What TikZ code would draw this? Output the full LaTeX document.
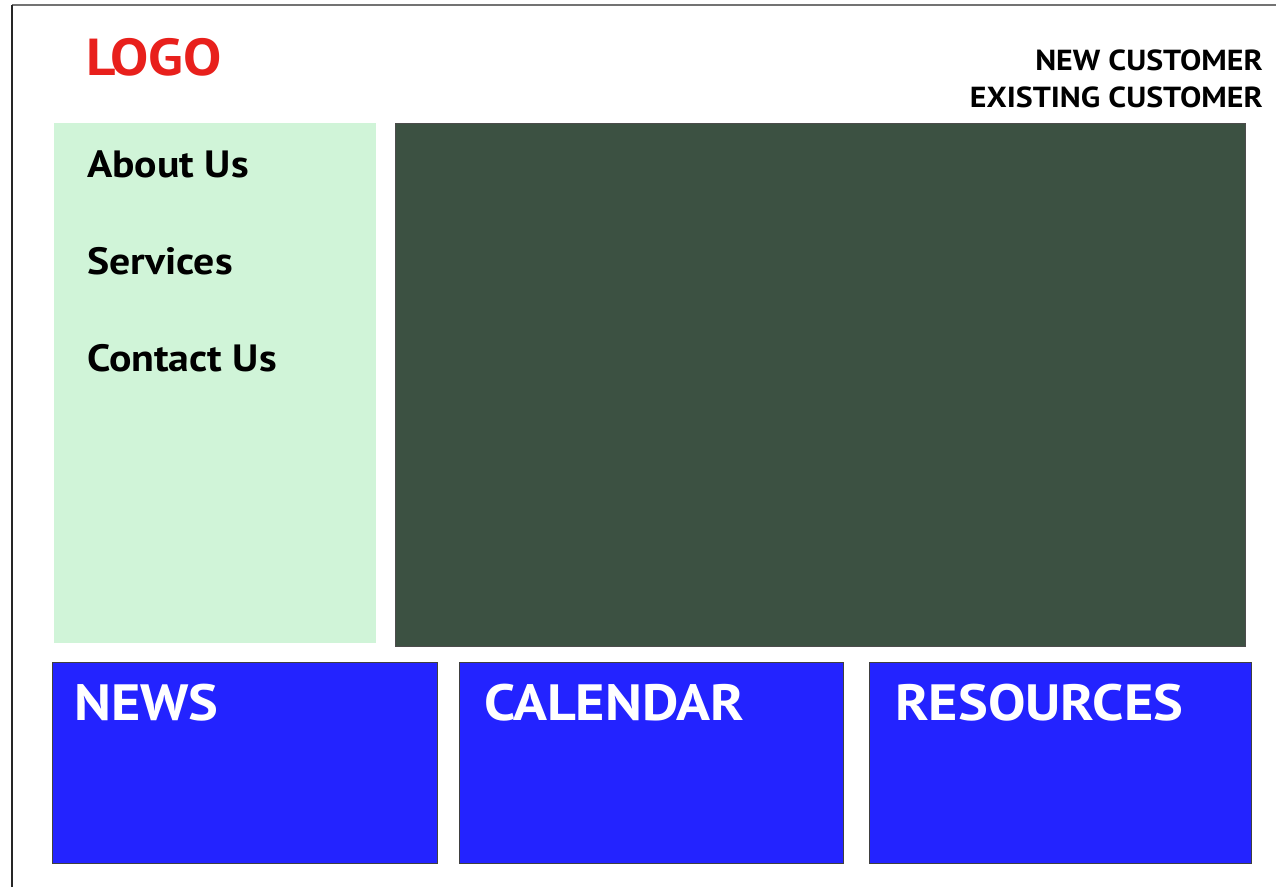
\documentclass[tikz,border=0pt]{standalone}
\usepackage{fontspec}
\setmainfont{PT Sans}[FakeStretch=1.1]
\definecolor{menugreen}{HTML}{D0F4D8}
\definecolor{herogreen}{HTML}{3C5142}
\definecolor{tileblue}{HTML}{2323FF}
\definecolor{logored}{HTML}{E8201C}
\begin{document}
\begin{tikzpicture}[x=1pt,y=-1pt]
\tikzstyle{every node}+=[inner sep=0pt]
\tikzstyle{tile}=[fill=tileblue,draw=black!75,line width=1pt]
\tikzstyle{tiletext}=[anchor=base west,text=white,font=\fontsize{51}{51}\selectfont\bfseries]
\tikzstyle{menutext}=[anchor=base west,font=\fontsize{38}{38}\selectfont\bfseries]
\tikzstyle{usertext}=[anchor=base east,font=\fontsize{29}{29}\selectfont\bfseries]
\useasboundingbox (0,0) rectangle (1276,887);
\fill [white] (0,0) rectangle (1276,887);
\draw [black!55,line width=2.5pt] (12,5) -- (1276,5);
\draw [black!85,line width=2pt] (12,887) -- (12,5);
\draw (86,75) node (logo) [anchor=base west,text=logored,font=\fontsize{52}{52}\selectfont\bfseries] {LOGO};
\draw (1263,70) node (newcust) [usertext] {NEW CUSTOMER};
\draw (1263,107) node (oldcust) [usertext] {EXISTING CUSTOMER};
\fill [menugreen] (54,123) rectangle (376,643);
\draw (87,177) node (about) [menutext] {About Us};
\draw (87,274) node (services) [menutext] {Services};
\draw (87,371) node (contact) [menutext] {Contact Us};
\draw [fill=herogreen,draw=black!70,line width=1pt] (395,123) rectangle (1245,646);
\draw [tile] (52,662) rectangle (437,863);
\draw (74,720) node (news) [tiletext] {NEWS};
\draw [tile] (459,662) rectangle (843,863);
\draw (484,720) node (calendar) [tiletext] {CALENDAR};
\draw [tile] (869,662) rectangle (1251,863);
\draw (895,720) node (resources) [tiletext] {RESOURCES};
\end{tikzpicture}
\end{document}
